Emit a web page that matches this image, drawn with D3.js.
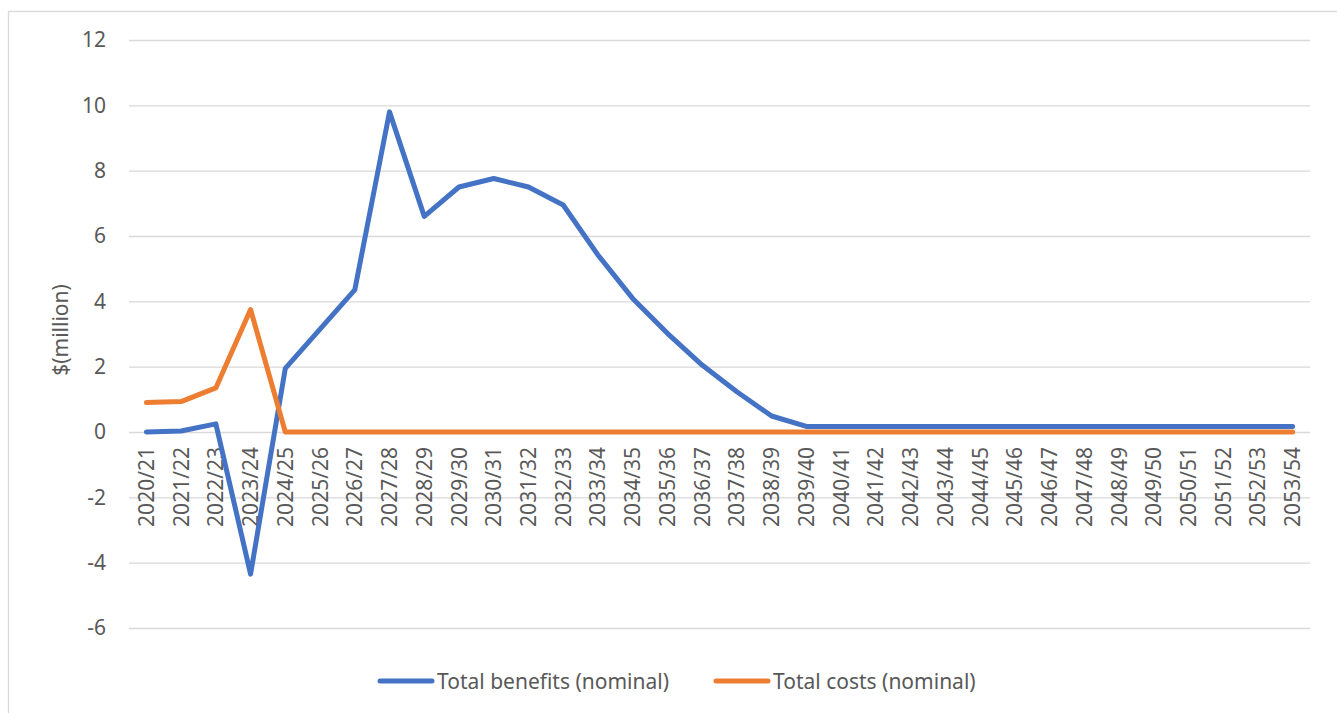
<!DOCTYPE html>
<html>
<head>
<meta charset="utf-8">
<script src="https://cdn.jsdelivr.net/npm/d3@7"></script>
<style>
  body { margin: 0; background: #fff; }
  svg { display: block; font-family: "Noto Sans", "Open Sans", sans-serif; }
</style>
</head>
<body>
<div id="chart"></div>
<script>
// financial years on the category axis
let years = ["2020/21", "2021/22", "2022/23", "2023/24", "2024/25", "2025/26", "2026/27",
  "2027/28", "2028/29", "2029/30", "2030/31", "2031/32", "2032/33", "2033/34", "2034/35",
  "2035/36", "2036/37", "2037/38", "2038/39", "2039/40", "2040/41", "2041/42", "2042/43",
  "2043/44", "2044/45", "2045/46", "2046/47", "2047/48", "2048/49", "2049/50", "2050/51",
  "2051/52", "2052/53", "2053/54"];

// $ million
let totalBenefits = [0, 0.03, 0.25, -4.35, 1.95, 3.15, 4.35, 9.8, 6.6, 7.5, 7.76, 7.5,
  6.95, 5.42, 4.09, 3.02, 2.05, 1.23, 0.49, 0.17, 0.17, 0.17, 0.17, 0.17, 0.17, 0.17,
  0.17, 0.17, 0.17, 0.17, 0.17, 0.17, 0.17, 0.17];
let totalCosts = [0.9, 0.93, 1.35, 3.75, 0, 0, 0, 0, 0, 0, 0, 0, 0, 0, 0, 0, 0, 0, 0, 0,
  0, 0, 0, 0, 0, 0, 0, 0, 0, 0, 0, 0, 0, 0];

let yTicks = [-6, -4, -2, 0, 2, 4, 6, 8, 10, 12];
let seriesNames = ["Total benefits (nominal)", "Total costs (nominal)"];
let seriesColors = ["#4472C4", "#ED7D31"];

let width = 1337, height = 713;
let margin = { top: 40, right: 27, bottom: 85, left: 129 };
let textColor = "#595959";

let svg = d3.select("#chart").append("svg")
  .attr("width", width)
  .attr("height", height);

// chart frame
svg.append("rect")
  .attr("x", 8.5).attr("y", 11.5)
  .attr("width", 1340).attr("height", 720)
  .attr("fill", "none")
  .attr("stroke", "#d9d9d9")
  .attr("stroke-width", 1.3);

let x = d3.scaleBand()
  .domain(years)
  .range([margin.left, width - margin.right])
  .padding(0);

let y = d3.scaleLinear()
  .domain([-6, 12])
  .range([height - margin.bottom, margin.top]);

let cx = function(d) { return x(d) + x.bandwidth() / 2; };

// gridlines + y labels (plain hyphen for negatives, like the original)
let yAxis = d3.axisLeft(y)
  .tickValues(yTicks)
  .tickSize(-(width - margin.right - margin.left))
  .tickPadding(23)
  .tickFormat(function(d) { return String(d); });

let gy = svg.append("g")
  .attr("transform", "translate(" + margin.left + ",0)")
  .call(yAxis);
gy.select(".domain").remove();
gy.selectAll(".tick line")
  .attr("stroke", "#d9d9d9")
  .attr("stroke-width", 1.3);
gy.selectAll(".tick text")
  .attr("fill", textColor)
  .style("font-size", "21px")
  .style("font-family", "Noto Sans");

// category labels sit under the zero line, rotated
svg.append("g")
  .selectAll("text")
  .data(years)
  .enter()
  .append("text")
  .attr("transform", function(d) { return "translate(" + cx(d) + "," + (y(0) + 15) + ") rotate(-90)"; })
  .attr("text-anchor", "end")
  .attr("dy", "0.36em")
  .attr("fill", textColor)
  .style("font-size", "21px")
  .text(function(d) { return d; });

// y axis title
svg.append("text")
  .attr("transform", "translate(60," + ((y(12) + y(-6)) / 2 - 4) + ") rotate(-90)")
  .attr("text-anchor", "middle")
  .attr("dy", "0.36em")
  .attr("fill", textColor)
  .style("font-size", "21px")
  .text("$(million)");

let line = d3.line()
  .x(function(d, i) { return cx(years[i]); })
  .y(function(d) { return y(d); });

[totalBenefits, totalCosts].forEach(function(values, i) {
  svg.append("path")
    .datum(values)
    .attr("fill", "none")
    .attr("stroke", seriesColors[i])
    .attr("stroke-width", 5)
    .attr("stroke-linejoin", "round")
    .attr("stroke-linecap", "round")
    .attr("d", line);
});

// legend
let legendY = 681;
let legendX = 380;
seriesNames.forEach(function(name, i) {
  let g = svg.append("g").attr("transform", "translate(" + legendX + "," + legendY + ")");
  g.append("line")
    .attr("x1", 0).attr("x2", 52)
    .attr("y1", 0).attr("y2", 0)
    .attr("stroke", seriesColors[i])
    .attr("stroke-width", 5)
    .attr("stroke-linecap", "round");
  let t = g.append("text")
    .attr("x", 57)
    .attr("dy", "0.36em")
    .attr("fill", textColor)
    .style("font-size", "21px")
    .text(name);
  legendX += 57 + t.node().getComputedTextLength() + 47;
});
</script>
</body>
</html>
